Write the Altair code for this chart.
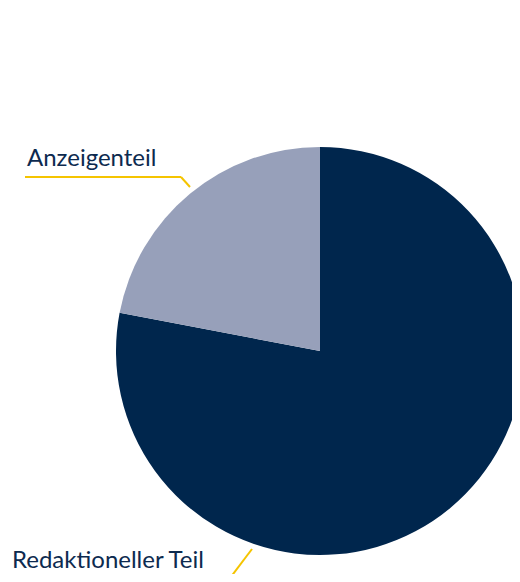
import altair as alt
import pandas as pd

categories = ["Redaktioneller Teil", "Anzeigenteil"]
shares = [78, 22]
order = [0, 1]
colors = ["#00264D", "#97A0BA"]

df = pd.DataFrame({"category": categories, "share": shares, "order": order})

FONT = "Lato"
TEXT_COLOR = "#0D2A4F"
LEADER = "#F5C400"

pie = alt.Chart(df).mark_arc(outerRadius=204).encode(
    theta=alt.Theta("share:Q", stack=True),
    order=alt.Order("order:Q"),
    color=alt.Color("category:N", scale=alt.Scale(domain=categories, range=colors), legend=None),
    x=alt.value(312),
    y=alt.value(343),
)

lbl_a = alt.Chart(pd.DataFrame({"label": ["Anzeigenteil"]})).mark_text(
    align="left", baseline="alphabetic", font=FONT, fontSize=24, color=TEXT_COLOR
).encode(text="label:N", x=alt.value(19), y=alt.value(158))

lbl_r = alt.Chart(pd.DataFrame({"label": ["Redaktioneller Teil"]})).mark_text(
    align="left", baseline="alphabetic", font=FONT, fontSize=24, color=TEXT_COLOR
).encode(text="label:N", x=alt.value(4), y=alt.value(560))

base = alt.Chart(pd.DataFrame({"k": [0]}))
rule1 = base.mark_rule(color=LEADER, strokeWidth=2).encode(
    x=alt.value(17), x2=alt.value(173), y=alt.value(169), y2=alt.value(169))
rule2 = base.mark_rule(color=LEADER, strokeWidth=2).encode(
    x=alt.value(173), x2=alt.value(182), y=alt.value(169), y2=alt.value(179))
rule3 = base.mark_rule(color=LEADER, strokeWidth=2).encode(
    x=alt.value(244), x2=alt.value(213), y=alt.value(541), y2=alt.value(582))

chart = alt.layer(pie, rule1, rule2, rule3, lbl_a, lbl_r).properties(
    width=504, height=566, autosize=alt.AutoSizeParams(type="none"), padding=0,
    background="white"
).configure_view(stroke=None, strokeWidth=0)

chart.save("out.html", embed_options={"renderer": "svg", "actions": False})
